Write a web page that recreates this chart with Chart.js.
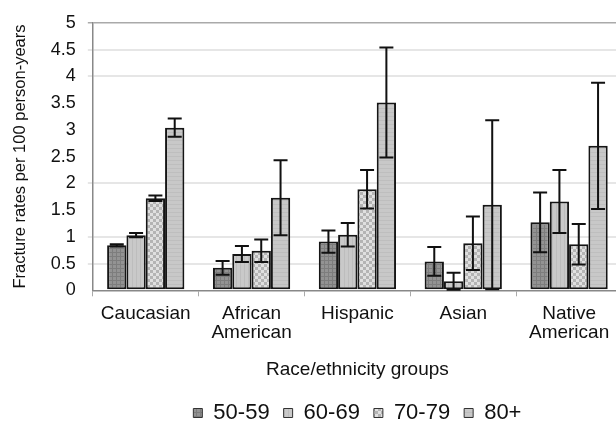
<!DOCTYPE html>
<html>
<head>
<meta charset="utf-8">
<script src="https://cdn.jsdelivr.net/npm/chart.js@4/dist/chart.umd.min.js"></script>
<style>
  html, body { margin: 0; padding: 0; background: #fff; overflow: hidden; }
  #wrap { width: 622px; height: 423px; position: relative; }
</style>
</head>
<body>
<div id="wrap"><canvas id="chart"></canvas></div>
<script>
// categories and series
const categories = [['Caucasian'], ['African', 'American'], ['Hispanic'], ['Asian'], ['Native', 'American']];
const seriesNames = ['50-59', '60-69', '70-79', '80+'];

const rates50 = [0.84, 0.42, 0.91, 0.54, 1.27];
const err50 = [0.02, 0.13, 0.21, 0.27, 0.56];
const rates60 = [1.03, 0.68, 1.04, 0.17, 1.66];
const err60 = [0.04, 0.15, 0.22, 0.16, 0.59];
const rates70 = [1.72, 0.74, 1.89, 0.88, 0.86];
const err70 = [0.05, 0.21, 0.36, 0.50, 0.38];
const rates80 = [3.04, 1.73, 3.51, 1.60, 2.70];
const err80 = [0.17, 0.70, 1.03, 1.58, 1.18];

const yTicks = [0, 0.5, 1, 1.5, 2, 2.5, 3, 3.5, 4, 4.5, 5];
const gridValues = [0.5, 1, 2, 4, 4.5];

// small gray fill patterns like the old spreadsheet bars
function makePattern(size, draw) {
  const c = document.createElement('canvas');
  c.width = size;
  c.height = size;
  draw(c.getContext('2d'));
  return c.getContext('2d').createPattern(c, 'repeat');
}

const fill50 = makePattern(4, function (g) {
  g.fillStyle = '#939393'; g.fillRect(0, 0, 4, 4);
  g.fillStyle = '#7d7d7d'; g.fillRect(0, 0, 1, 4); g.fillRect(0, 0, 4, 1);
});
const fill60 = makePattern(4, function (g) {
  g.fillStyle = '#c9c9c9'; g.fillRect(0, 0, 4, 4);
  g.fillStyle = '#bdbdbd'; g.fillRect(0, 0, 1, 4);
});
const fill70 = makePattern(6, function (g) {
  g.fillStyle = '#e0e0e0'; g.fillRect(0, 0, 6, 6);
  g.fillStyle = '#b4b4b4'; g.fillRect(0, 0, 3, 3); g.fillRect(3, 3, 3, 3);
});
const fill80 = makePattern(4, function (g) {
  g.fillStyle = '#c8c8c8'; g.fillRect(0, 0, 4, 4);
  g.fillStyle = '#bebebe'; g.fillRect(0, 0, 4, 1);
});

const errors = [err50, err60, err70, err80];

// draws the +/- error whiskers on each bar
const errorBars = {
  id: 'errorBars',
  afterDatasetsDraw(chart) {
    const ctx = chart.ctx;
    const y = chart.scales.y;
    ctx.save();
    ctx.strokeStyle = '#111';
    ctx.lineWidth = 2;
    chart.data.datasets.forEach(function (ds, i) {
      const meta = chart.getDatasetMeta(i);
      meta.data.forEach(function (bar, j) {
        const v = ds.data[j];
        const e = errors[i][j];
        const top = y.getPixelForValue(v + e);
        const bot = y.getPixelForValue(Math.max(0, v - e));
        const x = bar.x;
        const w = 7;
        ctx.beginPath();
        ctx.moveTo(x, top); ctx.lineTo(x, bot);
        ctx.moveTo(x - w, top); ctx.lineTo(x + w, top);
        ctx.moveTo(x - w, bot); ctx.lineTo(x + w, bot);
        ctx.stroke();
      });
    });
    ctx.restore();
  }
};

function barSet(label, data, fill) {
  return {
    label: label,
    data: data,
    backgroundColor: fill,
    borderColor: '#151515',
    borderWidth: 2,
    borderSkipped: false,
    barPercentage: 1.0,
    categoryPercentage: 0.73
  };
}

const font = 'Liberation Sans, Arial, sans-serif';

new Chart(document.getElementById('chart'), {
  type: 'bar',
  data: {
    labels: categories,
    datasets: [
      barSet(seriesNames[0], rates50, fill50),
      barSet(seriesNames[1], rates60, fill60),
      barSet(seriesNames[2], rates70, fill70),
      barSet(seriesNames[3], rates80, fill80)
    ]
  },
  options: {
    responsive: true,
    maintainAspectRatio: false,
    animation: false,
    layout: { padding: { left: 11, top: 5, right: 0, bottom: -11 } },
    plugins: {
      tooltip: { enabled: false },
      legend: {
        position: 'bottom',
        fullSize: false,
        labels: {
          color: '#111',
          font: { family: font, size: 22 },
          boxWidth: 9,
          boxHeight: 9,
          padding: 14,
          generateLabels: function (chart) {
            return Chart.defaults.plugins.legend.labels.generateLabels(chart).map(function (l) {
              l.lineWidth = 1;
              l.strokeStyle = '#333';
              return l;
            });
          }
        }
      }
    },
    scales: {
      x: {
        offset: true,
        grid: {
          display: true,
          drawOnChartArea: false,
          offset: true,
          tickLength: 6,
          color: '#aaa'
        },
        border: { color: '#888', width: 1.5 },
        ticks: {
          color: '#111',
          font: { family: font, size: 19, lineHeight: 1.05 },
          padding: 7,
          maxRotation: 0,
          autoSkip: false
        },
        title: {
          display: true,
          text: 'Race/ethnicity groups',
          color: '#111',
          font: { family: font, size: 19 },
          padding: { top: 8, bottom: 7 }
        }
      },
      y: {
        min: 0,
        max: 5,
        afterBuildTicks: function (axis) {
          axis.ticks = yTicks.map(function (v) { return { value: v }; });
        },
        grid: {
          tickLength: 5,
          lineWidth: function (c) { return c.tick && c.tick.value === 5 ? 1.5 : 2; },
          color: function (c) {
            if (!c.tick) return 'rgba(0,0,0,0)';
            if (c.tick.value === 5) return '#aaa';
            if (gridValues.indexOf(c.tick.value) >= 0) return '#e6e6e6';
            return 'rgba(0,0,0,0)';
          }
        },
        border: { color: '#888', width: 1.5 },
        ticks: {
          color: '#111',
          font: { family: font, size: 18 },
          padding: 12,
          callback: function (v) { return String(v); }
        },
        title: {
          display: true,
          text: 'Fracture rates per 100 person-years',
          color: '#111',
          font: { family: font, size: 16.5 },
          padding: { top: 0, bottom: 8 }
        }
      }
    }
  },
  plugins: [errorBars]
});
</script>
</body>
</html>
